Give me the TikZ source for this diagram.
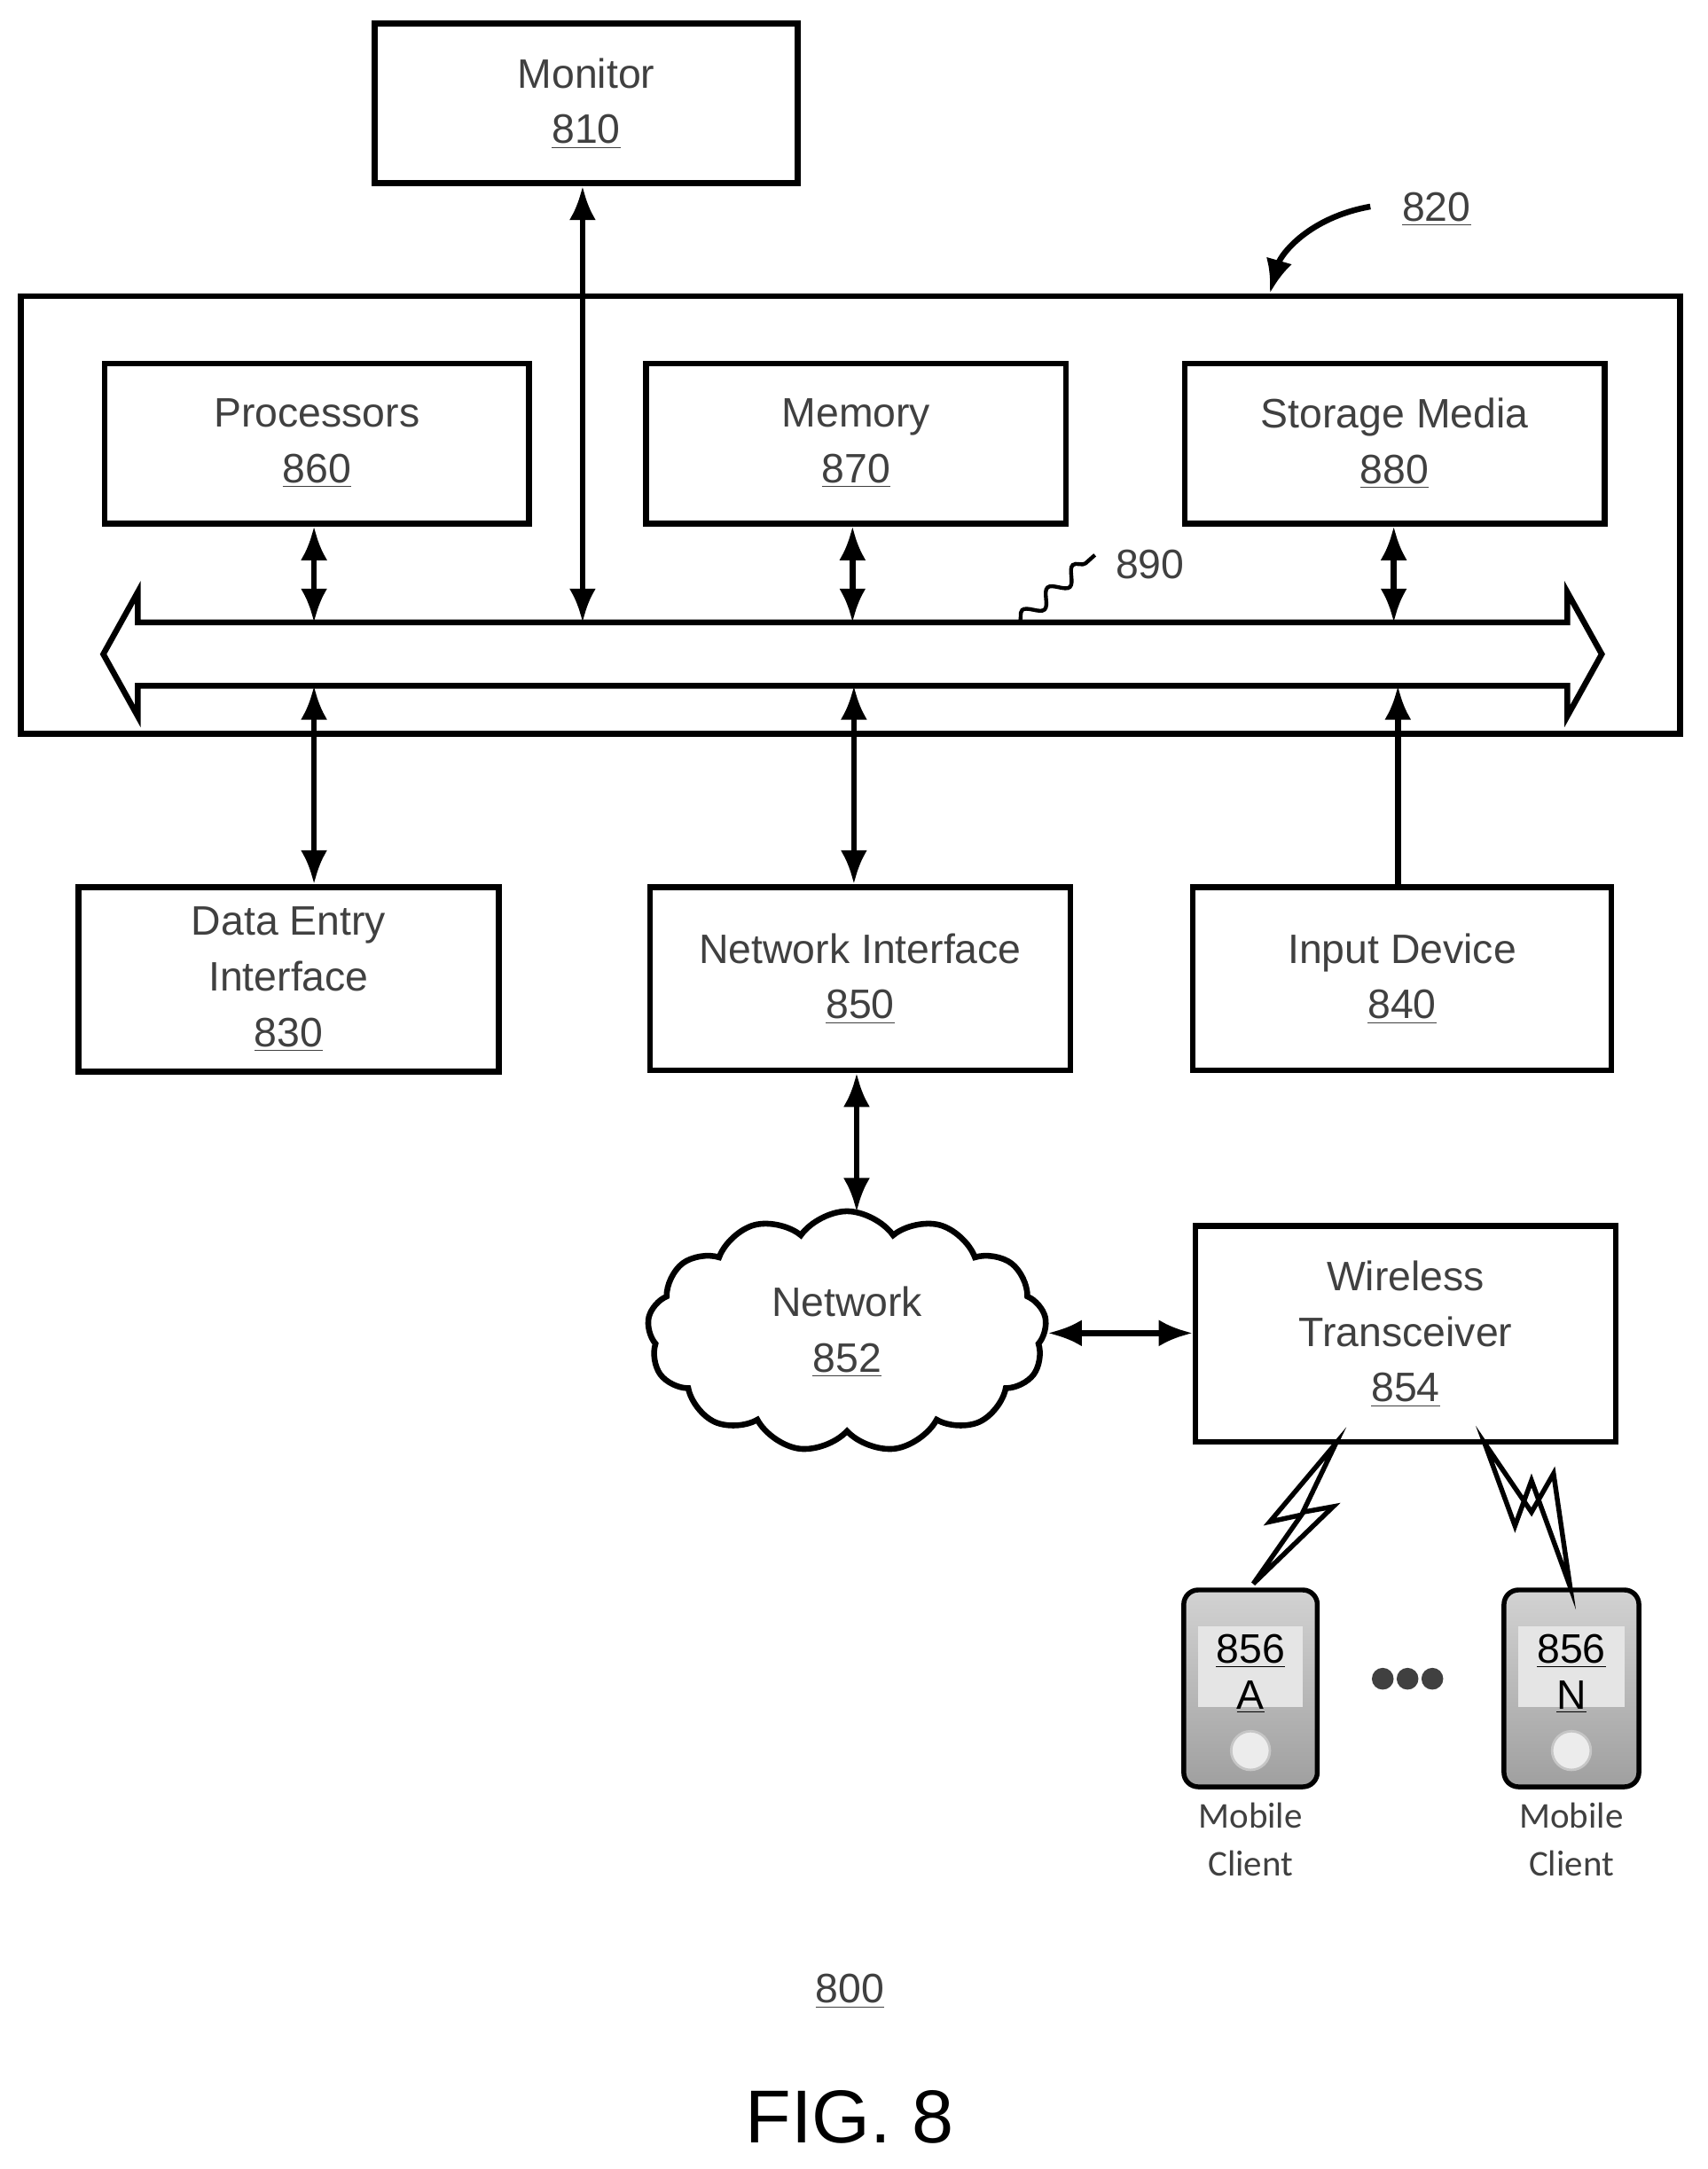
\documentclass[tikz,border=0pt]{standalone}
\usepackage{fontspec}
\setmainfont{Liberation Sans}
\newfontfamily\clientfont{Carlito}
\usetikzlibrary{arrows.meta,positioning,shapes.symbols,decorations.pathmorphing}

\begin{document}
\begin{tikzpicture}[x=0.02cm, y=-0.02cm, >={Latex[length=14pt,width=11pt]}]
 % styles for blocks, links and phones
 \tikzset{
 block/.style = {draw, rectangle, line width=2.4pt, anchor=north west, align=center, text=black!75, font=\fontsize{17}{23}\selectfont},
 link/.style = {draw, <->, line width=2.4pt},
 phone/.style = {draw, rounded corners=6pt, line width=2pt, top color=gray!35, bottom color=gray!75},
 client/.style = {font=\clientfont\fontsize{15}{20}\selectfont, align=center, text=black!75},
 }
 \useasboundingbox (0,0) rectangle (1240,1575);

 % monitor and computer
 \node [block, minimum width=6.14cm, minimum height=2.32cm] (monitor) at (270,15) {Monitor\\\underline{810}};
 \draw [line width=2.4pt] (15,215) rectangle (1220,533);
 \coordinate (sys) at (922,213);
 \node [font=\fontsize{17}{20}\selectfont, text=black!75] (syslabel) at (1043,152) {\underline{820}};
 \draw [->, line width=2.4pt] (995,150) .. controls (950,158) and (930,185) .. (sys);

 \node [block, minimum width=6.16cm, minimum height=2.32cm] (proc) at (74,262) {Processors\\\underline{860}};
 \node [block, minimum width=6.1cm, minimum height=2.32cm] (mem) at (467,262) {Memory\\\underline{870}};
 \node [block, minimum width=6.1cm, minimum height=2.32cm] (store) at (858,262) {Storage Media\\\underline{880}};

 % bus
 \draw [line width=2.4pt, fill=white] (75,475) -- (100,430) -- (100,452) -- (1138,452) -- (1138,430) -- (1163,475)
   -- (1138,520) -- (1138,498) -- (100,498) -- (100,520) -- cycle;
 \coordinate (busproc) at (228,452);
 \coordinate (busmon) at (423,452);
 \coordinate (busmem) at (619,452);
 \coordinate (busstore) at (1012,452);
 \coordinate (busdata) at (228,498);
 \coordinate (busnet) at (620,498);
 \coordinate (businput) at (1015,498);
 \node [font=\fontsize{17}{20}\selectfont, text=black!75] (buslabel) at (835,410) {890};
 \draw [line width=1.6pt, decorate, decoration={snake, amplitude=3pt, segment length=14pt}] (740,452) -- (795,403);

 \draw [link] (proc.south -| busproc) -- (busproc);
 \draw [link] (monitor.south -| busmon) -- (busmon);
 \draw [link] (mem.south -| busmem) -- (busmem);
 \draw [link] (store.south -| busstore) -- (busstore);

 % peripherals
 \node [block, minimum width=6.1cm, minimum height=2.68cm] (data) at (55,642) {Data Entry\\Interface\\\underline{830}};
 \node [block, minimum width=6.1cm, minimum height=2.66cm] (netif) at (470,642) {Network Interface\\\underline{850}};
 \node [block, minimum width=6.08cm, minimum height=2.66cm] (input) at (864,642) {Input Device\\\underline{840}};
 \draw [link] (busdata) -- (data.north -| busdata);
 \draw [link] (busnet) -- (netif.north -| busnet);
 \draw [->, line width=2.4pt] (input.north -| businput) -- (businput);

 % network and wireless
 \node [cloud, draw, line width=2.4pt, cloud puffs=13, cloud puff arc=110, aspect=1.7, minimum width=5.8cm, minimum height=3.5cm,
   align=center, text=black!75, font=\fontsize{17}{23}\selectfont] (net) at (615,967) {Network\\\underline{852}};
 \draw [link] (netif.south -| 622,0) -- (622,880);
 \node [block, minimum width=6.1cm, minimum height=3.14cm] (wt) at (866,888) {Wireless\\Transceiver\\\underline{854}};
 \draw [link] (net.east |- 0,968) -- (wt.west |- 0,968);

 % mobile clients
 \node [phone, minimum width=1.94cm, minimum height=2.86cm] (ma) at (908,1226) {};
 \node [phone, minimum width=1.96cm, minimum height=2.86cm] (mn) at (1141,1226) {};
 \foreach \m/\t in {ma/A, mn/N} {
   \fill [gray!20] ([shift={(7pt,-16pt)}]\m.north west) rectangle ([shift={(-7pt,34pt)}]\m.south east);
   \draw [gray!45, fill=gray!15, line width=1pt] ([yshift=16pt]\m.south) circle (8pt);
   \node [font=\fontsize{17}{19}\selectfont, align=center] at ([yshift=6pt]\m.center) {\underline{856}\\\underline{\t}};
 }
 \node [client, below=2pt of ma] (mal) {Mobile\\Client};
 \node [client, below=2pt of mn] (mnl) {Mobile\\Client};
 \foreach \x in {1004,1022,1040}
   \fill [black!75] (\x,1219) circle (4.5pt);

 % radio links
 \draw [line width=2pt, fill=white] (970,1048) -- (922,1105) -- (945,1100) -- (910,1150) -- (968,1094) -- (946,1098) -- cycle;
 \draw [line width=2pt, fill=white] (1078,1048) -- (1100,1108) -- (1112,1075) -- (1140,1152) -- (1128,1070) -- (1112,1098) -- cycle;

 % figure labels
 \node [font=\fontsize{17}{20}\selectfont, text=black!75] (num) at (617,1446) {\underline{800}};
 \node [font=\fontsize{31}{36}\selectfont] (fig) at (617,1537) {FIG. 8};
\end{tikzpicture}
\end{document}
